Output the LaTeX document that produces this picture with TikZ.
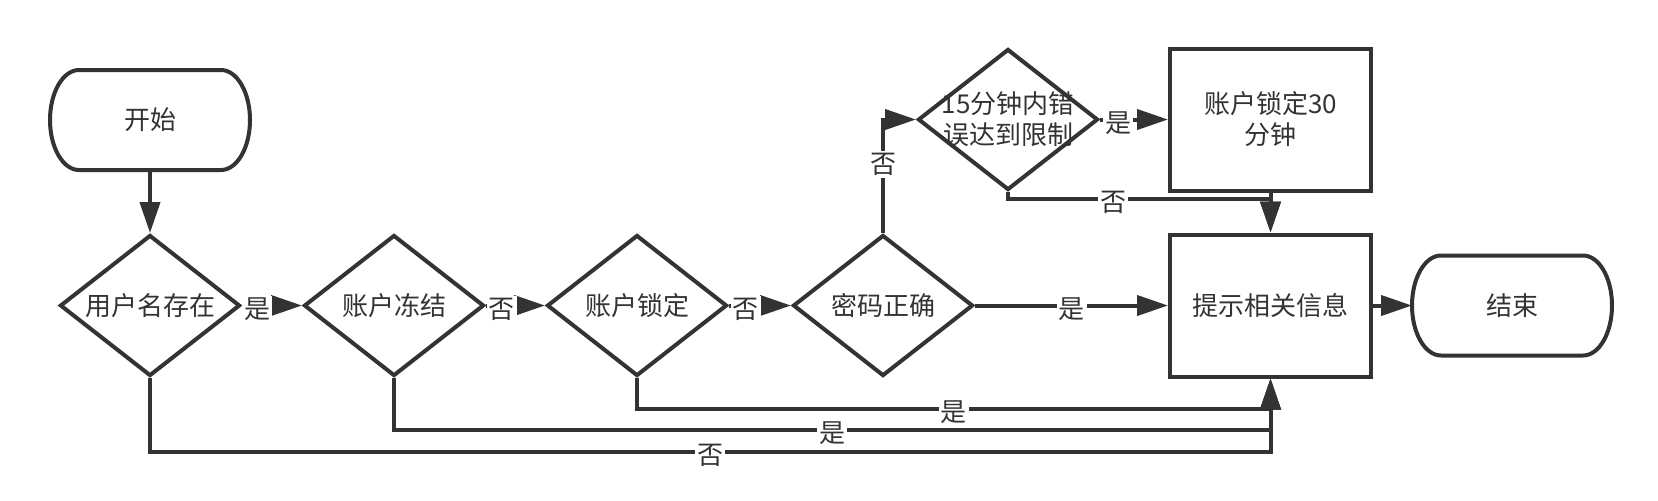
\documentclass[tikz,border=0pt]{standalone}
\usepackage{fontspec}
\setmainfont{Noto Sans CJK SC}
\usetikzlibrary{shapes.geometric, arrows.meta, positioning}
\definecolor{ink}{HTML}{333333}

\begin{document}
\begin{tikzpicture}[
      x=0.5pt, y=-0.5pt,
      font=\fontsize{13pt}{15.5pt}\selectfont,
      line width=2pt, color=ink,
      term/.style={rectangle, outer sep=0pt, minimum width=100pt, minimum height=50pt},
      box/.style={rectangle, draw, align=center, minimum width=100.5pt, minimum height=71pt},
      dia/.style={diamond, draw, inner sep=0pt, aspect=1.28, minimum width=90pt, minimum height=70.5pt},
      lbl/.style={fill=white, inner sep=1pt, yshift=-2pt},
      arrow/.style={-{Triangle[length=15.5pt,width=10pt]}}
    ]
      \useasboundingbox (0,0) rectangle (1658,500);

      \node (start) [term] at (150,120) {开始};
      \node (user) [dia, below=31.5pt of start] {用户名存在};
      \node (frozen) [dia, right=30pt of user] {账户冻结};
      \node (locked) [dia, right=29.5pt of frozen] {账户锁定};
      \node (pwd) [dia, right=31pt of locked] {密码正确};
      \node (info) [box, right=96.5pt of pwd] {提示相关信息};
      \node (stop) [term, right=19.5pt of info] {结束};
      \node (lock30) [box, above=20pt of info] {账户锁定30\\分钟};
      \node (limit) [dia, left=34pt of lock30, label={[align=center]center:15分钟内错\\误达到限制}] {};

      % start / end outlines
      \foreach \t in {start, stop}
        \draw ([xshift=14.5pt]\t.north west) -- ([xshift=-14.5pt]\t.north east)
          arc[start angle=90, end angle=-90, x radius=14.5pt, y radius=25pt]
          -- ([xshift=14.5pt]\t.south west)
          arc[start angle=270, end angle=90, x radius=14.5pt, y radius=25pt] -- cycle;

      \coordinate (c5) at ([yshift=17pt]info.north);
      \coordinate (c3) at ([yshift=-15pt]info.south);
      \coordinate (c2) at ([yshift=-25.5pt]info.south);
      \coordinate (c1) at ([yshift=-36.5pt]info.south);

      \draw [arrow] (start) -- (user);
      \draw [arrow] (user) -- node[lbl, pos=.25] {是} (frozen);
      \draw [arrow] (frozen) -- node[lbl, pos=.27] {否} (locked);
      \draw [arrow] (locked) -- node[lbl, pos=.27] {否} (pwd);
      \draw [arrow] (pwd) -- node[lbl] {是} (info);
      \draw [arrow] (pwd) |- node[lbl, pos=.32] {否} (limit);
      \draw [arrow] (limit) -- node[lbl, pos=.27] {是} (lock30);
      \draw [arrow] (lock30) -- (info);
      \draw [arrow] (limit.south) |- node[lbl, pos=.7] {否} (c5) -- (info);
      \draw [arrow] (locked.south) |- node[lbl, pos=.75] {是} (c3) -- (info);
      \draw [arrow] (frozen.south) |- node[lbl, pos=.75] {是} (c2) -- (info);
      \draw [arrow] (user.south) |- node[lbl, pos=.75] {否} (c1) -- (info);
      \draw [arrow] (info) -- (stop);
    \end{tikzpicture}
\end{document}
